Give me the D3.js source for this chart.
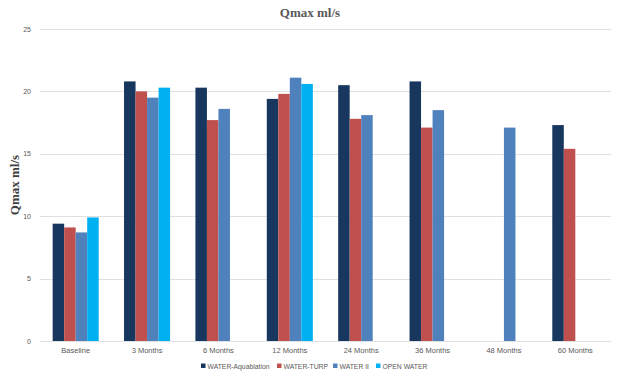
<!DOCTYPE html>
<html>
<head>
<meta charset="utf-8">
<script src="https://cdn.jsdelivr.net/npm/d3@7"></script>
<style>
  body { margin: 0; background: #fff; }
  svg { display: block; }
</style>
</head>
<body>
<div id="chart"></div>
<script>
var categories = ["Baseline", "3 Months", "6 Months", "12 Months", "24 Months", "36 Months", "48 Months", "60 Months"];
var seriesNames = ["WATER-Aquablation", "WATER-TURP", "WATER II", "OPEN WATER"];
var seriesColors = ["#17375E", "#C0504D", "#4F81BD", "#00B0F0"];
// null = no bar in that month
var aquablation = [9.4, 20.8, 20.3, 19.4, 20.5, 20.8, null, 17.3];
var turp        = [9.1, 20.0, 17.7, 19.8, 17.8, 17.1, null, 15.4];
var waterII     = [8.7, 19.5, 18.6, 21.1, 18.1, 18.5, 17.1, null];
var openWater   = [9.9, 20.3, null, 20.6, null, null, null, null];
var yTicks = [0, 5, 10, 15, 20, 25];

var allSeries = [aquablation, turp, waterII, openWater];

var width = 621, height = 384;
var margin = {top: 29, right: 10, bottom: 43, left: 40};
var labelFont = "'Liberation Sans', Arial, sans-serif";

var svg = d3.select("#chart").append("svg")
    .attr("width", width)
    .attr("height", height);

var x = d3.scaleBand()
    .domain(categories)
    .range([margin.left, width - margin.right])
    .paddingInner(0.355)
    .paddingOuter(0.1775);

var xs = d3.scaleBand()
    .domain(d3.range(seriesNames.length))
    .range([0, x.bandwidth()]);

var y = d3.scaleLinear()
    .domain([0, 25])
    .range([height - margin.bottom, margin.top]);

// gridlines
svg.append("g")
    .selectAll("line")
    .data(yTicks)
    .join("line")
    .attr("x1", margin.left)
    .attr("x2", width - margin.right)
    .attr("y1", d => Math.round(y(d)) + 0.5)
    .attr("y2", d => Math.round(y(d)) + 0.5)
    .style("stroke", "#e0e0e0")
    .style("stroke-width", 1);

// y tick labels
svg.append("g")
    .selectAll("text")
    .data(yTicks)
    .join("text")
    .attr("x", margin.left - 9)
    .attr("y", d => y(d) + 2.5)
    .attr("text-anchor", "end")
    .style("font-family", labelFont)
    .style("font-size", "7px")
    .style("fill", "#595959")
    .text(d => d);

// bars
var groups = svg.append("g")
    .selectAll("g")
    .data(categories)
    .join("g")
    .attr("transform", d => "translate(" + x(d) + ",0)");

groups.selectAll("rect")
    .data((d, i) => allSeries.map((s, j) => ({ j: j, v: s[i] })).filter(o => o.v != null))
    .join("rect")
    .attr("x", d => xs(d.j))
    .attr("width", xs.bandwidth())
    .attr("y", d => y(d.v))
    .attr("height", d => y(0) - y(d.v))
    .style("fill", d => seriesColors[d.j]);

// x labels
svg.append("g")
    .selectAll("text")
    .data(categories)
    .join("text")
    .attr("x", d => x(d) + x.bandwidth() / 2)
    .attr("y", height - margin.bottom + 12)
    .attr("text-anchor", "middle")
    .style("font-family", labelFont)
    .style("font-size", "7.5px")
    .style("fill", "#595959")
    .text(d => d);

// title
svg.append("text")
    .attr("x", 310)
    .attr("y", 17)
    .attr("text-anchor", "middle")
    .style("font-family", "'Liberation Serif', 'Times New Roman', serif")
    .style("font-weight", "bold")
    .style("font-size", "13px")
    .style("fill", "#595959")
    .text("Qmax ml/s");

// y axis title
svg.append("text")
    .attr("transform", "translate(19,185) rotate(-90)")
    .attr("text-anchor", "middle")
    .style("font-family", "'Liberation Serif', 'Times New Roman', serif")
    .style("font-weight", "bold")
    .style("font-size", "13px")
    .style("fill", "#404040")
    .text("Qmax ml/s");

// legend
var legendX = [201, 277, 333, 376];
var legend = svg.append("g")
    .selectAll("g")
    .data(seriesNames)
    .join("g")
    .attr("transform", (d, i) => "translate(" + legendX[i] + ",366)");

legend.append("rect")
    .attr("x", 0)
    .attr("y", -2.5)
    .attr("width", 4.5)
    .attr("height", 4.5)
    .style("fill", (d, i) => seriesColors[i]);

legend.append("text")
    .attr("x", 6.5)
    .attr("y", 2.5)
    .style("font-family", labelFont)
    .style("font-size", "6.8px")
    .style("fill", "#595959")
    .text(d => d);
</script>
</body>
</html>
